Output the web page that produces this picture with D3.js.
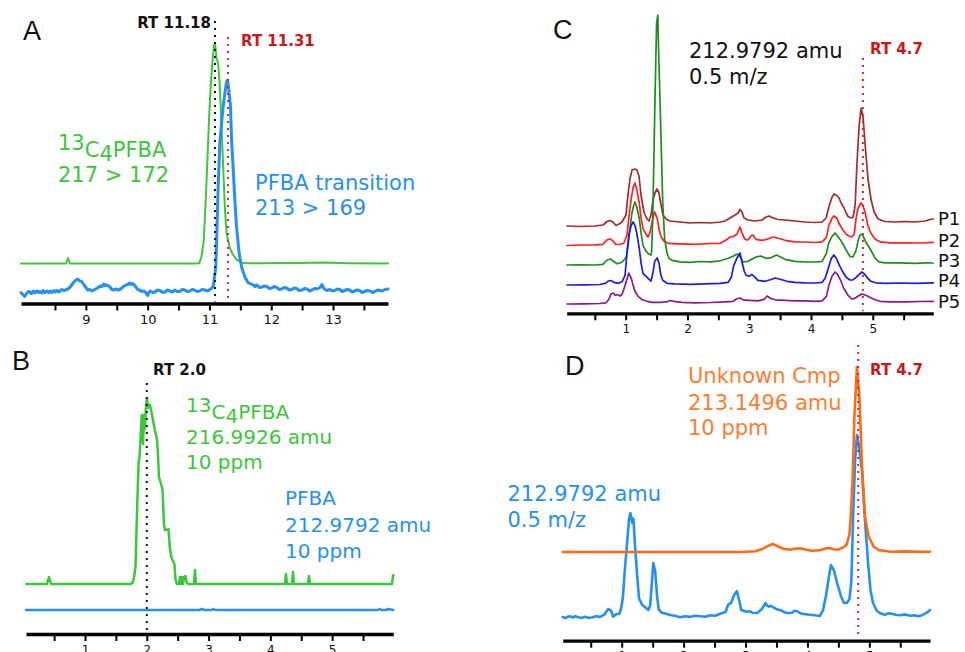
<!DOCTYPE html>
<html>
<head>
<meta charset="utf-8">
<script src="https://cdn.jsdelivr.net/npm/d3@7"></script>
<style>
  body { margin: 0; background: #fff; }
  svg { display: block; }
</style>
</head>
<body>
<script>
// chromatogram panels A-D, traces as [time (min), intensity] pairs

// tick values (min)
const ticksA = [8.5, 9, 9.5, 10, 10.5, 11, 11.5, 12, 12.5, 13, 13.5];
const ticksBCD = [0.5, 1, 1.5, 2, 2.5, 3, 3.5, 4, 4.5, 5, 5.5];

// Panel A - MRM transitions
const aGreen = [[7.95,40],[8.68,40],[8.71,45.5],[8.74,40],[10.80,40],[10.833,40.2],[10.871,46.8],[10.909,63.5],[10.939,103.5],[10.963,136.8],[10.995,186.8],[11.023,220.2],[11.050,243.5],[11.076,258.5],[11.091,260.2],[11.115,245.2],[11.141,240.2],[11.168,216.8],[11.196,176.8],[11.222,136.8],[11.249,96.8],[11.277,70.2],[11.330,55.2],[11.383,48.5],[11.438,44.2],[11.519,40.8],[11.654,40.2],[12.46,40.5],[12.82,41],[13.27,40.3],[13.89,40]];
const aBlue = [[7.95,10.8],[7.98,9],[8.01,7],[8.04,10],[8.07,12],[8.09,11.5],[8.12,10],[8.15,12.5],[8.17,10.5],[8.21,12.5],[8.24,11],[8.26,12],[8.29,10.5],[8.31,13],[8.34,11],[8.37,12.5],[8.40,11],[8.42,12.5],[8.45,11],[8.48,13],[8.50,11.5],[8.53,13],[8.56,11.5],[8.58,12.5],[8.61,14],[8.64,13],[8.67,13.5],[8.71,14.5],[8.74,16],[8.77,18.5],[8.80,21],[8.84,23.5],[8.87,24.5],[8.90,22.5],[8.93,22],[8.97,18.5],[9.00,16],[9.03,13.5],[9.06,14],[9.10,12.5],[9.13,13.5],[9.16,14.5],[9.20,16],[9.23,17.5],[9.26,17],[9.29,19.5],[9.31,18],[9.34,18.5],[9.37,17.5],[9.39,16.5],[9.42,14],[9.45,13.5],[9.48,14.5],[9.52,13.5],[9.55,14],[9.58,15.5],[9.61,17],[9.65,18.5],[9.68,19],[9.71,20.5],[9.74,19],[9.76,20],[9.79,18],[9.81,16.5],[9.84,14],[9.87,13.5],[9.90,12],[9.94,12.5],[9.97,11],[10.00,8],[10.02,11],[10.04,12.5],[10.08,11],[10.12,11.5],[10.16,13.5],[10.20,13],[10.24,11],[10.28,11.5],[10.32,13.5],[10.36,12.5],[10.40,11.5],[10.44,13.5],[10.48,12],[10.52,12],[10.56,14],[10.60,13.5],[10.64,12],[10.68,12.5],[10.72,14],[10.76,13.5],[10.80,12],[10.84,12.5],[10.88,14],[10.93,13.5],[10.97,12.5],[11.01,14],[11.060,16.8],[11.104,36.8],[11.141,116.8],[11.168,160.2],[11.196,180.2],[11.222,196.8],[11.249,210.2],[11.277,221.8],[11.293,223.5],[11.319,210.2],[11.341,196.8],[11.358,163.5],[11.383,136.8],[11.411,103.5],[11.438,76.8],[11.481,50.2],[11.519,36.8],[11.573,26.8],[11.626,20.8],[11.707,18.5],[11.74,17],[11.77,18.5],[11.81,16],[11.85,16.5],[11.89,17.5],[11.93,17],[11.97,15],[12.01,15.5],[12.05,17],[12.09,16],[12.13,14],[12.17,14.5],[12.21,16],[12.25,15.5],[12.29,13.5],[12.33,14],[12.37,15.5],[12.41,15],[12.45,13],[12.50,13.5],[12.54,15],[12.58,14.5],[12.62,12.5],[12.66,13.5],[12.70,15],[12.74,14.5],[12.79,16],[12.82,19],[12.85,15],[12.90,13],[12.95,14],[12.99,12.5],[13.03,13],[13.07,14.5],[13.11,14],[13.15,12],[13.19,13],[13.23,14],[13.27,13.5],[13.31,11.5],[13.35,12.5],[13.39,13.5],[13.43,13],[13.47,11],[13.51,12],[13.55,13],[13.60,12.5],[13.64,11],[13.68,12],[13.72,13.5],[13.76,13],[13.80,12.5],[13.84,14],[13.89,14.5]];
const rtA = [11.09, 11.30];

// Panel B - extracted ions, 10 ppm
const bGreen = [[0.05,50],[0.385,50],[0.417,57],[0.45,50],[1.744,50],[1.777,52],[1.80,59],[1.817,67],[1.841,120],[1.866,170],[1.882,177],[1.898,195],[1.914,215],[1.922,219],[1.939,190],[1.955,219],[1.971,205],[1.987,228],[2.003,236],[2.019,226],[2.036,229],[2.052,229],[2.076,222],[2.100,214],[2.133,203],[2.165,195],[2.181,180],[2.197,157],[2.23,150],[2.254,145],[2.278,110],[2.294,104],[2.319,104],[2.351,105],[2.375,85],[2.40,76],[2.424,73],[2.448,70],[2.464,55],[2.489,50],[2.521,50],[2.537,57],[2.553,50],[2.57,57],[2.586,50],[2.60,57],[2.626,58],[2.642,52],[2.667,50],[2.764,50],[2.78,64],[2.796,50],[4.236,50],[4.252,60],[4.269,50],[4.35,50],[4.366,62],[4.382,50],[4.608,50],[4.625,58],[4.641,50],[5.968,50],[5.99,59]];
const bBlue = [[0.045,24],[2.85,24],[2.89,25],[2.93,24],[3.05,24],[3.08,25],[3.11,24],[5.74,24],[5.77,25],[5.80,24],[5.88,24],[5.90,25],[5.99,24]];
const rtB = [2.0];

// Panel C - 212.9792 amu in five samples
const cP1 = [[0.050,87.3],[0.261,86.8],[0.503,87.3],[0.633,88.3],[0.697,91.8],[0.746,92.8],[0.795,91.3],[0.843,87.8],[0.892,89.3],[0.940,91.3],[1.005,98.3],[1.037,118.3],[1.069,134.3],[1.102,143.3],[1.151,144.3],[1.183,143.3],[1.215,137.3],[1.248,118.3],[1.296,101.3],[1.345,94.3],[1.377,92.3],[1.410,98.3],[1.442,113.3],[1.474,120.3],[1.507,124.3],[1.539,120.3],[1.572,108.3],[1.604,98.3],[1.653,94.3],[1.717,92.3],[1.879,91.3],[2.041,90.3],[2.203,90.8],[2.365,90.3],[2.527,91.3],[2.608,92.3],[2.689,95.3],[2.770,98.3],[2.819,100.3],[2.851,103.8],[2.883,101.3],[2.916,95.3],[2.981,93.3],[3.094,92.3],[3.208,93.3],[3.272,96.3],[3.321,97.3],[3.370,95.8],[3.467,93.8],[3.580,93.3],[3.742,92.3],[3.904,91.3],[4.066,90.8],[4.180,91.3],[4.245,95.3],[4.293,107.3],[4.342,116.3],[4.374,119.3],[4.407,118.3],[4.455,115.3],[4.488,110.3],[4.536,105.3],[4.569,100.3],[4.601,96.8],[4.650,95.3],[4.682,96.3],[4.715,108.3],[4.747,153.3],[4.780,188.3],[4.812,205],[4.844,195.3],[4.877,168.3],[4.925,133.3],[4.974,113.3],[5.022,101.3],[5.087,94.3],[5.200,91.8],[5.362,91.3],[5.524,91.8],[5.686,91.3],[5.848,92.3],[5.929,93.8],[5.977,94.3]];
const cP2 = [[0.05,67.8],[0.26,68.3],[0.50,68.5],[0.63,69],[0.70,73.5],[0.75,74.5],[0.80,72],[0.84,68.8],[0.91,69],[0.97,70],[1.02,78],[1.05,95],[1.09,115],[1.12,126],[1.15,130.3],[1.18,124],[1.22,110],[1.25,95],[1.28,85],[1.33,79],[1.36,76.3],[1.39,80],[1.43,92],[1.46,99],[1.47,101.3],[1.51,95],[1.54,84],[1.57,77],[1.62,72],[1.69,70],[1.88,69.5],[2.12,69],[2.37,69.8],[2.53,70],[2.62,73],[2.69,76.3],[2.75,77],[2.80,79],[2.85,86.3],[2.88,81],[2.93,74],[2.98,73.3],[3.03,77.5],[3.06,78.3],[3.11,74],[3.21,73],[3.31,74.5],[3.39,76.3],[3.47,75],[3.58,73],[3.74,71.5],[3.90,71.3],[4.07,70.8],[4.18,71.5],[4.25,76],[4.29,88],[4.34,95],[4.37,97.3],[4.42,95],[4.47,88],[4.52,83],[4.57,79],[4.62,77],[4.66,76.3],[4.70,79],[4.73,95],[4.76,105],[4.81,110.3],[4.84,108],[4.88,100],[4.92,88],[4.97,80],[5.04,74],[5.12,71.5],[5.28,70.5],[5.52,70.5],[5.77,70.3],[5.98,71]];
const cP3 = [[0.05,48.3],[0.26,48.5],[0.50,48.3],[0.63,49],[0.70,53.3],[0.75,54.3],[0.80,52],[0.86,49.5],[0.94,51],[1.01,56],[1.04,68],[1.07,85],[1.10,100],[1.13,108],[1.15,111.3],[1.18,106],[1.22,95],[1.25,80],[1.28,68],[1.33,62],[1.38,59],[1.41,58.3],[1.42,62],[1.44,100],[1.47,200],[1.50,290],[1.52,298.3],[1.53,270],[1.57,180],[1.60,110],[1.63,75],[1.67,60],[1.70,55],[1.75,53],[1.88,51.5],[2.04,51],[2.20,51.8],[2.37,51.5],[2.53,52.5],[2.66,55],[2.74,57],[2.80,59.3],[2.85,57],[2.90,51.3],[2.98,52],[3.04,54],[3.12,56.5],[3.19,57.3],[3.27,55],[3.35,55.5],[3.44,58.3],[3.50,56.5],[3.58,54],[3.74,52],[3.90,51.3],[4.07,51.3],[4.18,52],[4.25,60],[4.29,71],[4.34,77],[4.39,80.3],[4.43,77],[4.48,73],[4.53,68],[4.58,62],[4.63,57],[4.68,56.3],[4.73,63],[4.76,72],[4.79,78],[4.83,79.3],[4.86,75],[4.89,71],[4.92,68],[4.97,63],[5.04,55],[5.10,51.5],[5.20,50.5],[5.44,50.5],[5.69,50],[5.85,50.5],[5.98,50.3]];
const cP4 = [[0.05,28.3],[0.34,28.5],[0.58,28.8],[0.67,30],[0.71,32],[0.76,32.8],[0.81,31],[0.88,30],[0.94,31.5],[0.99,38],[1.02,60],[1.05,78],[1.09,88],[1.12,91.3],[1.15,88],[1.18,80],[1.22,65],[1.25,50],[1.28,40],[1.33,37],[1.38,34],[1.41,32.3],[1.44,40],[1.47,52],[1.51,55.3],[1.54,50],[1.57,38],[1.60,33],[1.67,30],[1.80,29.5],[2.04,29],[2.28,29.5],[2.53,30],[2.66,31],[2.71,36],[2.75,48],[2.80,55],[2.83,58],[2.85,60.3],[2.88,52],[2.92,42],[2.95,38],[3.00,37],[3.04,39],[3.08,37],[3.14,33],[3.26,32],[3.34,33.5],[3.42,35.3],[3.50,34],[3.61,32],[3.74,31],[3.90,30.5],[4.07,30.3],[4.18,31],[4.23,35],[4.28,45],[4.33,55],[4.37,58.3],[4.41,55],[4.46,48],[4.51,42],[4.57,36],[4.63,33.3],[4.68,33.5],[4.73,36],[4.78,39],[4.82,41.3],[4.87,39],[4.92,35],[4.97,32],[5.05,30.5],[5.20,30],[5.44,30.3],[5.69,30],[5.98,30.5]];
const cP5 = [[0.05,9.3],[0.34,9.5],[0.58,9.8],[0.68,10.5],[0.73,14],[0.76,19.3],[0.80,20.3],[0.83,18],[0.86,18.5],[0.89,18],[0.91,17.3],[0.94,19],[0.97,24],[1.01,32],[1.04,38],[1.05,40.3],[1.09,35],[1.12,28],[1.15,22],[1.20,17],[1.27,13.5],[1.35,12],[1.43,11],[1.56,11],[1.67,11.5],[1.72,12.8],[1.78,12],[1.91,11],[2.12,10.5],[2.37,10.8],[2.61,11.5],[2.74,12],[2.80,14.5],[2.85,15.3],[2.90,13.5],[3.01,13],[3.14,12.5],[3.24,14],[3.29,17.3],[3.34,15],[3.42,13.5],[3.58,13],[3.74,12.5],[3.90,12.5],[4.07,12],[4.18,12.5],[4.25,17],[4.29,28],[4.34,37],[4.39,41.3],[4.43,39],[4.48,33],[4.53,25],[4.60,18],[4.66,14.3],[4.71,15],[4.76,17],[4.82,19.3],[4.89,18],[4.95,16],[5.04,13.5],[5.12,12],[5.28,11.5],[5.52,11.5],[5.77,11.8],[5.98,12]];
const cSeries = [cP1, cP2, cP3, cP4, cP5];
const cNames = ["P1", "P2", "P3", "P4", "P5"];
const cColors = ["#a52a2a", "#ff2020", "#1e8c1e", "#1c1ce0", "#8a1a8a"];
const rtC = [4.84];

// Panel D - unknown compound vs 212.9792 amu
const dBlue = [[0.05,23.7],[0.09,22.5],[0.13,24],[0.17,24.5],[0.21,23],[0.25,24.5],[0.30,23.5],[0.35,22.8],[0.41,24],[0.46,23],[0.52,23.2],[0.58,24.5],[0.65,23.8],[0.72,26],[0.78,31.7],[0.83,30],[0.86,24],[0.91,26.5],[0.96,27],[0.99,32],[1.02,43.7],[1.05,70],[1.09,100],[1.12,122],[1.14,127.7],[1.17,118],[1.19,122],[1.21,100],[1.25,65],[1.28,42],[1.33,36],[1.38,33.5],[1.43,30.7],[1.46,35],[1.49,60],[1.51,77.7],[1.54,70],[1.57,45],[1.60,31],[1.65,28],[1.73,26.7],[1.80,25.5],[1.86,25],[1.94,23.5],[2.02,24.5],[2.10,23.8],[2.18,25],[2.27,24.5],[2.35,24],[2.43,25.5],[2.51,25],[2.57,26.5],[2.62,27.5],[2.68,29],[2.72,36],[2.77,38],[2.81,45],[2.86,49.7],[2.90,40],[2.93,30.7],[2.97,30],[3.01,29],[3.06,29.5],[3.11,28],[3.19,27.7],[3.23,30],[3.27,32],[3.32,37.7],[3.35,35],[3.38,34],[3.41,35],[3.44,33.7],[3.49,32],[3.53,31],[3.57,30.5],[3.61,29],[3.67,27.7],[3.75,28],[3.79,30],[3.83,29.5],[3.87,28],[3.91,27],[3.97,26.5],[4.04,26],[4.12,25.5],[4.20,24.7],[4.25,30],[4.30,45],[4.35,65],[4.38,75.7],[4.43,70],[4.48,57.7],[4.54,45],[4.59,37.7],[4.64,38],[4.68,42],[4.71,60],[4.74,127.7],[4.77,180],[4.80,205.7],[4.83,195],[4.88,170.7],[4.93,120],[4.98,77.7],[5.02,50],[5.06,37.7],[5.12,30],[5.17,27.7],[5.22,26.5],[5.26,26],[5.31,27.5],[5.36,27],[5.43,26],[5.50,25.5],[5.58,26.3],[5.66,25],[5.72,25.5],[5.79,24.5],[5.85,25.5],[5.90,27],[5.94,28.5],[5.98,30.7]];
const dOrange = [[0.05,88.7],[0.65,88.7],[1.46,88.7],[2.27,88.7],[2.92,88.7],[3.16,89.5],[3.28,92],[3.37,95],[3.44,96.7],[3.52,94.5],[3.61,92],[3.72,91],[3.80,92],[3.88,92.5],[3.98,91],[4.07,90],[4.20,90.5],[4.28,92],[4.34,93],[4.42,91.5],[4.50,91],[4.60,94],[4.64,97],[4.68,107],[4.70,124],[4.73,160.7],[4.76,227],[4.80,273.7],[4.84,244],[4.88,177],[4.93,124],[4.99,104],[5.07,94],[5.15,90.7],[5.34,89],[5.58,89.3],[5.82,88.8],[5.98,89]];
const rtD = [4.82];

// colours
const GREEN = "#3cc63c", BLUE = "#2590f2", ORANGE = "#ff6a14", ORANGE_TXT = "#fb7d30";
const RT_RED = "#c81818", DOT_RED = "#d42a2a";
const FONT = "DejaVu Sans";

const svg = d3.select("body").append("svg")
  .attr("width", 965)
  .attr("height", 652)
  .style("font-family", FONT);

function makePanel(left, right, axisY, domain, ticks, tickFont) {
  const x = d3.scaleLinear().domain(domain).range([left, right]);
  const y = d3.scaleLinear().domain([0, 300]).range([axisY, axisY - 300]);
  const g = svg.append("g");
  const axis = d3.axisBottom(x)
    .tickValues(ticks)
    .tickSize(7)
    .tickSizeOuter(0)
    .tickPadding(4)
    .tickFormat(d => Number.isInteger(d) ? d : "");
  const ax = g.append("g").attr("transform", `translate(0,${axisY})`).call(axis);
  ax.select(".domain").attr("stroke", "#000").attr("stroke-width", 3.3);
  ax.selectAll(".tick line").attr("stroke", "#000").attr("stroke-width", 2);
  ax.selectAll(".tick text")
    .attr("fill", "#111")
    .style("font-family", FONT)
    .style("font-size", tickFont + "px");
  return {x, y, g, axisY};
}

function trace(p, data, color, width) {
  const line = d3.line().x(d => p.x(d[0])).y(d => p.y(d[1]));
  p.g.append("path")
    .datum(data)
    .attr("d", line)
    .attr("fill", "none")
    .attr("stroke", color)
    .attr("stroke-width", width)
    .attr("stroke-linejoin", "round")
    .attr("stroke-linecap", "round");
}

function rtLine(p, t, top, color) {
  p.g.append("line")
    .attr("x1", p.x(t)).attr("x2", p.x(t))
    .attr("y1", top).attr("y2", p.axisY - 2)
    .attr("stroke", color)
    .attr("stroke-width", 2)
    .attr("stroke-dasharray", "2,5");
}

function label(x, y, txt, color, size, opts = {}) {
  return svg.append("text")
    .attr("x", x).attr("y", y)
    .attr("fill", color)
    .attr("text-anchor", opts.anchor || "start")
    .style("font-family", opts.family || FONT)
    .style("font-size", size + "px")
    .style("font-weight", opts.bold ? "bold" : "normal")
    .text(txt);
}

function isoLabel(x, y, color, size) {
  const t = svg.append("text").attr("x", x).attr("y", y)
    .attr("fill", color).style("font-size", size + "px");
  t.append("tspan").attr("dy", -7).text("13");
  t.append("tspan").attr("dy", 7).text("C");
  t.append("tspan").attr("dy", 4).text("4");
  t.append("tspan").attr("dy", -4).text("PFBA");
}

// ---- Panel A
const pA = makePanel(21, 388, 303.5, [7.95, 13.89], ticksA, 13);
trace(pA, aGreen, GREEN, 2);
trace(pA, aBlue, BLUE, 3);
rtLine(pA, rtA[0], 21, "#111");
rtLine(pA, rtA[1], 37, DOT_RED);
label(23, 40, "A", "#111", 27, {family: "Liberation Sans"});
label(211, 28, "RT 11.18", "#111", 15, {bold: true, anchor: "end"});
label(241, 46, "RT 11.31", RT_RED, 15, {bold: true});
isoLabel(58, 157, GREEN, 21);
label(58, 182, "217 > 172", GREEN, 21);
label(255, 190, "PFBA transition", BLUE, 21);
label(255, 215, "213 > 169", BLUE, 21);

// ---- Panel B
const pB = makePanel(26, 393.3, 634, [0.045, 5.99], ticksBCD, 12);
trace(pB, bGreen, GREEN, 2.5);
trace(pB, bBlue, BLUE, 2.5);
rtLine(pB, rtB[0], 383, "#111");
label(12, 370, "B", "#111", 27, {family: "Liberation Sans"});
label(153, 375, "RT 2.0", "#111", 15, {bold: true});
isoLabel(186, 419, GREEN, 20);
label(186, 443.5, "216.9926 amu", GREEN, 20);
label(186, 468.5, "10 ppm", GREEN, 20);
label(285, 505, "PFBA", BLUE, 20);
label(285, 531.5, "212.9792 amu", BLUE, 20);
label(285, 557.5, "10 ppm", BLUE, 20);

// ---- Panel C
const pC = makePanel(566.7, 933.3, 313.3, [0.045, 5.98], ticksBCD, 12);
cSeries.forEach((s, i) => trace(pC, s, cColors[i], 1.7));
rtLine(pC, rtC[0], 58, DOT_RED);
label(553, 39, "C", "#111", 27, {family: "Liberation Sans"});
label(870, 54, "RT 4.7", RT_RED, 15, {bold: true});
label(689, 58, "212.9792 amu", "#111", 21);
label(689, 84, "0.5 m/z", "#111", 21);
const pLabelY = [225, 246.5, 266.8, 287.3, 308.3];
cNames.forEach((n, i) => label(938, pLabelY[i], n, "#111", 18));

// ---- Panel D
const pD = makePanel(562.7, 930, 640.7, [0.047, 5.98], ticksBCD, 12);
trace(pD, dBlue, BLUE, 2.6);
trace(pD, dOrange, ORANGE, 2.6);
rtLine(pD, rtD[0], 345, DOT_RED);
label(565, 375, "D", "#111", 27, {family: "Liberation Sans"});
label(870, 375, "RT 4.7", RT_RED, 15, {bold: true});
label(688, 383, "Unknown Cmp", ORANGE_TXT, 21);
label(688, 409.5, "213.1496 amu", ORANGE_TXT, 21);
label(688, 435, "10 ppm", ORANGE_TXT, 21);
label(507.5, 501, "212.9792 amu", BLUE, 21);
label(507.5, 527, "0.5 m/z", BLUE, 21);
</script>
</body>
</html>
